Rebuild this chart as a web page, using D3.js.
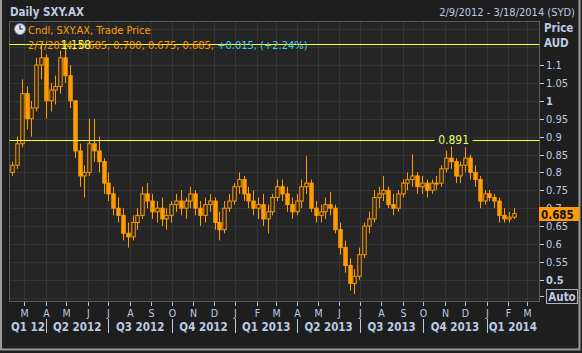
<!DOCTYPE html>
<html>
<head>
<meta charset="utf-8">
<script src="https://cdn.jsdelivr.net/npm/d3@7"></script>
<style>
  body { margin: 0; background: #1e1e1e; }
  text { font-family: 'DejaVu Sans Condensed', 'DejaVu Sans', sans-serif; }
</style>
</head>
<body>
<div id="chart"></div>
<script>
// weekly candles, week 0 starts 9 Feb 2012
var firstWeek = new Date(2012, 1, 9);
var opens  = [.80,.82,.88,1.02,.95,.98,1.10,1.12,1.00,1.03,1.04,1.12,1.07,1.00,.86,.79,.80,.88,.86,.83,.77,.74,.70,.68,.63,.62,.66,.68,.74,.72,
              .69,.70,.67,.68,.71,.72,.70,.72,.74,.70,.68,.71,.72,.66,.64,.70,.72,.76,.78,.74,.72,.70,.71,.67,.69,.73,.76,.74,.71,.69,
              .72,.76,.77,.70,.68,.69,.71,.70,.64,.59,.54,.49,.51,.57,.65,.67,.73,.74,.75,.71,.70,.74,.77,.78,.79,.76,.77,.75,.77,.77,
              .81,.84,.83,.79,.82,.84,.80,.78,.72,.74,.73,.72,.68,.67,.675];
var highs  = [.83,.90,1.06,1.04,1.00,1.12,1.16,1.13,1.05,1.07,1.14,1.158,1.10,1.00,.88,.82,.95,.95,.90,.84,.80,.76,.73,.70,.66,.68,.70,.76,.77,.74,
              .72,.73,.70,.72,.74,.75,.73,.76,.75,.72,.73,.74,.73,.69,.72,.74,.77,.80,.79,.76,.75,.73,.74,.71,.74,.78,.78,.76,.73,.74,
              .78,.845,.78,.72,.71,.73,.745,.71,.66,.61,.56,.53,.59,.66,.69,.75,.76,.79,.76,.74,.75,.78,.80,.85,.80,.79,.78,.78,.79,.82,
              .86,.891,.84,.83,.87,.85,.82,.79,.75,.75,.74,.73,.70,.69,.70];
var lows   = [.79,.81,.87,.92,.90,.97,1.06,.95,.97,.99,1.02,1.05,.98,.84,.76,.73,.79,.83,.80,.74,.72,.68,.66,.61,.59,.61,.64,.67,.70,.67,
              .66,.65,.64,.66,.69,.68,.67,.70,.68,.65,.66,.69,.64,.61,.63,.69,.71,.74,.72,.70,.68,.67,.65,.63,.68,.72,.72,.69,.67,.68,
              .70,.74,.69,.66,.66,.67,.68,.63,.57,.52,.47,.46,.50,.56,.63,.66,.70,.72,.70,.68,.69,.73,.75,.76,.74,.74,.73,.74,.75,.76,
              .80,.81,.77,.77,.80,.78,.76,.70,.71,.72,.70,.66,.66,.66,.67];
var closes = [.82,.88,1.02,.95,.98,1.10,1.12,1.00,1.03,1.04,1.12,1.07,1.00,.86,.79,.80,.88,.86,.83,.77,.74,.70,.68,.63,.62,.66,.68,.74,.72,.69,
              .70,.67,.68,.71,.72,.70,.72,.74,.70,.68,.71,.72,.66,.64,.70,.72,.76,.78,.74,.72,.70,.71,.67,.69,.73,.76,.74,.71,.69,.72,
              .76,.77,.70,.68,.69,.71,.70,.64,.59,.54,.49,.51,.57,.65,.67,.73,.74,.75,.71,.70,.74,.77,.78,.79,.76,.77,.75,.77,.77,.81,
              .84,.83,.79,.82,.84,.80,.78,.72,.74,.73,.72,.68,.67,.675,.685];

var yTicks = [1.1, 1.05, 1, 0.95, 0.9, 0.85, 0.8, 0.75, 0.7, 0.65, 0.6, 0.55, 0.5];
var gridValues = [1.2, 1.15, 1.1, 1.05, 1, 0.95, 0.9, 0.85, 0.8, 0.75, 0.7, 0.65, 0.6, 0.55, 0.5, 0.45];
var quarterLabels = ["Q1 12", "Q2 2012", "Q3 2012", "Q4 2012", "Q1 2013", "Q2 2013", "Q3 2013", "Q4 2013", "Q1 2014"];
var refLines = [1.158, 0.891];
var lastPrice = 0.685;
var legendValues = "2/7/2014, 0.685, 0.700, 0.675, 0.685, ";
var legendChange = "+0.015, (+2.24%)";

var orange = "#ff9c00", textCol = "#bccbe2", yellow = "#ffff1e";

function setup(targetID){
    var width = 582, height = 353;
    var plot = {left: 9.5, right: 539.5, top: 21.5, bottom: 301.5};

    var x = d3.scaleTime()
      .domain([new Date(2012, 1, 9), new Date(2014, 2, 18)])
      .range([10, 539]);
    var y = d3.scaleLinear()
      .domain([0.4408, 1.2229])
      .range([301, 21]);

    d3.select(targetID).selectAll("svg").remove();
    var svg = d3.select(targetID).append("svg")
        .attr("width", width)
        .attr("height", height);

    return {width: width, height: height, plot: plot, svg: svg, x: x, y: y};
}

function drawChart(s){
    var svg = s.svg, x = s.x, y = s.y, p = s.plot;

    //panel
    svg.append("rect").attr("width", s.width).attr("height", s.height).attr("fill", "#1e1e1e");
    svg.append("path")
      .attr("d", "M1,0V349.5H579.5V0")
      .attr("fill", "none").attr("stroke", "#9a9a9a").attr("stroke-width", 2);

    svg.append("text").attr("x", 10).attr("y", 16)
      .attr("font-size", 11.5).attr("font-weight", "bold").attr("fill", textCol)
      .text("Daily SXY.AX");
    svg.append("text").attr("x", 575).attr("y", 16)
      .attr("font-size", 11).attr("text-anchor", "end").attr("fill", textCol)
      .text("2/9/2012 - 3/18/2014 (SYD)");

    //plot area
    svg.append("rect")
      .attr("x", p.left).attr("y", p.top)
      .attr("width", p.right - p.left).attr("height", p.bottom - p.top)
      .attr("fill", "#252525");

    var months = d3.timeMonth.range(new Date(2012, 2, 1), new Date(2014, 2, 2));

    svg.append("g").selectAll("line")
      .data(months).enter().append("line")
      .attr("x1", function(d){ return Math.round(x(d)) + 0.5; })
      .attr("x2", function(d){ return Math.round(x(d)) + 0.5; })
      .attr("y1", p.top).attr("y2", p.bottom)
      .attr("stroke", "#353535");

    svg.append("g").selectAll("line")
      .data(gridValues).enter().append("line")
      .attr("x1", p.left).attr("x2", p.right)
      .attr("y1", function(d){ return Math.round(y(d)) + 0.5; })
      .attr("y2", function(d){ return Math.round(y(d)) + 0.5; })
      .attr("stroke", "#353535");

    svg.append("rect")
      .attr("x", p.left).attr("y", p.top)
      .attr("width", p.right - p.left).attr("height", p.bottom - p.top)
      .attr("fill", "none").attr("stroke", "#5a5a5a");

    //candles
    var candles = opens.map(function(o, i){
      return {date: d3.timeDay.offset(firstWeek, 7 * i + 3), o: o, h: highs[i], l: lows[i], c: closes[i]};
    });
    var bw = x(d3.timeDay.offset(firstWeek, 7)) - x(firstWeek) - 1.4;

    var candle = svg.append("g").selectAll("g")
      .data(candles).enter().append("g");

    candle.append("line")
      .attr("x1", function(d){ return Math.round(x(d.date)) + 0.5; })
      .attr("x2", function(d){ return Math.round(x(d.date)) + 0.5; })
      .attr("y1", function(d){ return y(d.h); })
      .attr("y2", function(d){ return y(d.l); })
      .attr("stroke", orange);

    candle.append("rect")
      .attr("x", function(d){ return Math.round(x(d.date)) + 0.5 - bw / 2; })
      .attr("y", function(d){ return y(Math.max(d.o, d.c)); })
      .attr("width", bw)
      .attr("height", function(d){ return Math.max(1, Math.abs(y(d.o) - y(d.c))); })
      .attr("fill", function(d){ return d.c < d.o ? orange : "#252525"; })
      .attr("stroke", orange);

    //reference lines
    svg.append("g").selectAll("line")
      .data(refLines).enter().append("line")
      .attr("x1", p.left).attr("x2", p.right)
      .attr("y1", function(d){ return Math.round(y(d)) + 0.5; })
      .attr("y2", function(d){ return Math.round(y(d)) + 0.5; })
      .attr("stroke", yellow).attr("stroke-width", 1.2);

    //legend
    var clock = svg.append("g").attr("transform", "translate(20,29)");
    clock.append("circle").attr("r", 5.5).attr("fill", "#dfe6f0").attr("stroke", "#6f86a6");
    clock.append("path").attr("d", "M0,-4V0H3").attr("fill", "none").attr("stroke", "#333").attr("stroke-width", 1.2);

    svg.append("text").attr("x", 28).attr("y", 34)
      .attr("font-size", 11).attr("fill", orange)
      .text("Cndl, SXY.AX, Trade Price");
    var leg = svg.append("text").attr("x", 28).attr("y", 49)
      .attr("font-size", 11).attr("fill", orange);
    leg.append("tspan").text(legendValues);
    leg.append("tspan").attr("fill", "#3ad6e8").text(legendChange);

    //ref line labels
    var hi = refLines[0], mid = refLines[1];
    svg.append("text").attr("x", 76).attr("y", y(hi) + 4.5)
      .attr("font-size", 11.5).attr("text-anchor", "middle").attr("fill", "#e6ff66")
      .text(d3.format(".3f")(hi));
    var midX = x(new Date(2013, 10, 14));
    svg.append("rect").attr("x", midX - 19).attr("y", y(mid) - 7)
      .attr("width", 38).attr("height", 14).attr("fill", "#252525");
    svg.append("text").attr("x", midX).attr("y", y(mid) + 4.5)
      .attr("font-size", 12).attr("text-anchor", "middle").attr("fill", "#e6ff66")
      .text(d3.format(".3f")(mid));

    //y axis
    svg.append("text").attr("x", 544).attr("y", 32)
      .attr("font-size", 11.5).attr("font-weight", "bold").attr("fill", textCol).text("Price");
    svg.append("text").attr("x", 544).attr("y", 47)
      .attr("font-size", 11.5).attr("font-weight", "bold").attr("fill", textCol).text("AUD");

    var yt = svg.append("g").selectAll("g")
      .data(yTicks).enter().append("g")
      .attr("transform", function(d){ return "translate(0," + (Math.round(y(d)) + 0.5) + ")"; });
    yt.append("line").attr("x1", 540).attr("x2", 544).attr("stroke", textCol);
    yt.append("text").attr("x", 546).attr("dy", "0.35em")
      .attr("font-size", 11)
      .attr("font-weight", function(d){ return (d === 1 || d === 0.5) ? "bold" : "normal"; })
      .attr("fill", textCol)
      .text(function(d){ return d; });

    svg.append("rect").attr("x", 539).attr("y", Math.round(y(lastPrice)) - 7)
      .attr("width", 40).attr("height", 14).attr("fill", orange);
    svg.append("text").attr("x", 541).attr("y", Math.round(y(lastPrice)) + 4.5)
      .attr("font-size", 11.5).attr("font-weight", "bold").attr("fill", "#111")
      .text(lastPrice);

    svg.append("line").attr("x1", 540).attr("x2", 544).attr("y1", 296.5).attr("y2", 296.5).attr("stroke", textCol);
    svg.append("rect").attr("x", 546.5).attr("y", 289.5).attr("width", 31).attr("height", 14)
      .attr("fill", "none").attr("stroke", "#a8b4c4");
    svg.append("text").attr("x", 562).attr("y", 301)
      .attr("font-size", 11.5).attr("font-weight", "bold").attr("text-anchor", "middle").attr("fill", textCol)
      .text("Auto");

    //x axis
    var mt = svg.append("g").selectAll("g")
      .data(months).enter().append("g")
      .attr("transform", function(d){ return "translate(" + (Math.round(x(d)) + 0.5) + ",0)"; });
    mt.append("line").attr("y1", 302).attr("y2", 306).attr("stroke", textCol);
    mt.append("text").attr("y", 317).attr("font-size", 10.5).attr("text-anchor", "middle")
      .attr("fill", textCol)
      .text(function(d){ return d3.timeFormat("%b")(d).charAt(0); });

    var qStarts = d3.timeMonth.every(3).range(new Date(2012, 0, 1), new Date(2014, 3, 1));
    var qs = qStarts.map(function(d, i){
      var a = Math.max(x(d), x.range()[0]);
      var b = Math.min(x(d3.timeMonth.offset(d, 3)), x.range()[1]);
      return {start: d, a: a, b: b, label: quarterLabels[i]};
    });
    svg.append("g").selectAll("text")
      .data(qs).enter().append("text")
      .attr("x", function(d){ return (d.a + d.b) / 2; })
      .attr("y", 331)
      .attr("font-size", 11.5).attr("font-weight", "bold").attr("text-anchor", "middle")
      .attr("fill", textCol)
      .text(function(d){ return d.label; });
    svg.append("g").selectAll("line")
      .data(qs.slice(1)).enter().append("line")
      .attr("x1", function(d){ return Math.round(d.a) + 0.5; })
      .attr("x2", function(d){ return Math.round(d.a) + 0.5; })
      .attr("y1", 319).attr("y2", 333)
      .attr("stroke", textCol);
}

var settings = setup("#chart");
drawChart(settings);
</script>
</body>
</html>
